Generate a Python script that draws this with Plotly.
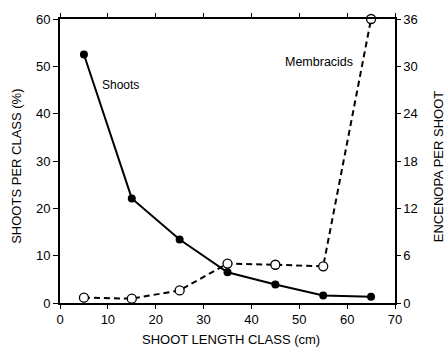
import plotly.graph_objects as go

x_class = [5, 15, 25, 35, 45, 55, 65]
shoots_pct = [52.5, 22.1, 13.4, 6.5, 3.9, 1.6, 1.3]
membracids = [0.68, 0.55, 1.6, 5.0, 4.85, 4.65, 36.0]

FONT = "Liberation Sans, Arial, Helvetica, sans-serif"

fig = go.Figure()
fig.add_trace(go.Scatter(
    x=x_class, y=shoots_pct, mode="lines+markers",
    line=dict(color="black", width=2),
    marker=dict(symbol="circle", size=8, color="black"),
    cliponaxis=False, showlegend=False, yaxis="y"))
fig.add_trace(go.Scatter(
    x=x_class, y=membracids, mode="lines+markers",
    line=dict(color="black", width=2, dash="6px,4px"),
    marker=dict(symbol="circle", size=9, color="white",
                line=dict(color="black", width=1.3)),
    cliponaxis=False, showlegend=False, yaxis="y2"))

fig.update_layout(
    width=446, height=349,
    margin=dict(l=60, r=51, t=17, b=46),
    paper_bgcolor="white", plot_bgcolor="white",
    font=dict(family=FONT, size=13, color="black"),
    xaxis=dict(range=[0, 70], dtick=10, tick0=0, showgrid=False, zeroline=False,
               showline=True, linecolor="black", linewidth=1.5, mirror="ticks",
               ticks="outside", ticklen=4, tickwidth=1, tickcolor="black",
               tickfont=dict(size=13)),
    yaxis=dict(range=[0, 60], dtick=10, tick0=0, showgrid=False, zeroline=False,
               showline=True, linecolor="black", linewidth=2,
               ticks="outside", ticklen=5, tickwidth=1, tickcolor="black",
               tickfont=dict(size=13)),
    yaxis2=dict(range=[0, 36], dtick=6, tick0=0, overlaying="y", side="right",
                showgrid=False, zeroline=False, showline=True, linecolor="black",
                linewidth=1.5, ticks="outside", ticklen=4, tickwidth=1,
                tickcolor="black", tickfont=dict(size=13)),
    annotations=[
        dict(text="SHOOT LENGTH CLASS (cm)", xref="paper", yref="paper",
             x=0.51, y=-0.127, xanchor="center", yanchor="middle",
             showarrow=False, font=dict(size=13)),
        dict(text="SHOOTS PER CLASS (%)", xref="paper", yref="paper",
             x=-0.128, y=0.48, xanchor="center", yanchor="middle",
             textangle=-90, showarrow=False, font=dict(size=13)),
        dict(text="ENCENOPA PER SHOOT", xref="paper", yref="paper",
             x=1.13, y=0.48, xanchor="center", yanchor="middle",
             textangle=-90, showarrow=False, font=dict(size=13)),
        dict(text="Shoots", xref="x", yref="y", x=12.6, y=46,
             showarrow=False, font=dict(size=12)),
        dict(text="Membracids", xref="x", yref="y", x=54.1, y=50.9,
             showarrow=False, font=dict(size=12.5)),
    ],
)

fig.write_html("out.html")
